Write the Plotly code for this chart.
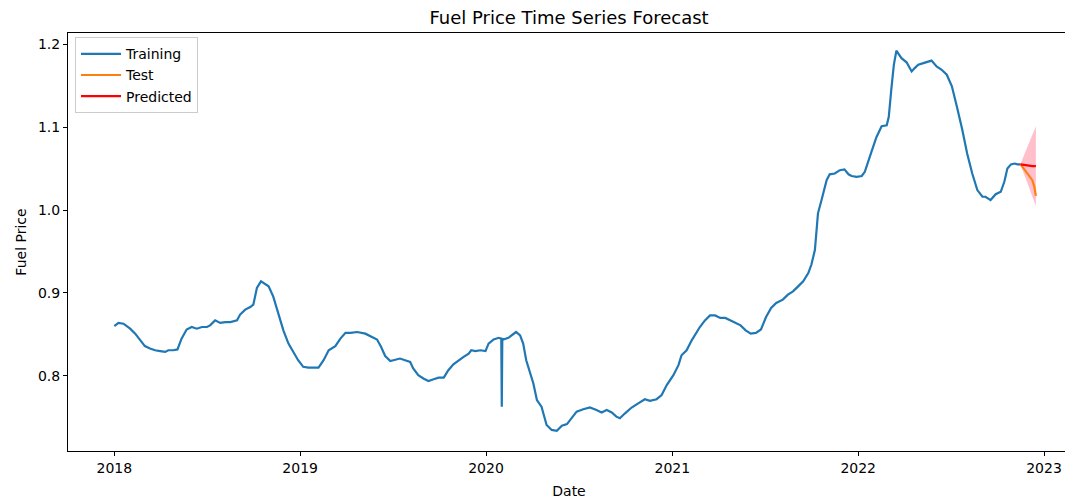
import plotly.graph_objects as go

# training series
train_dates = [
    "2018-01-01", "2018-01-09", "2018-01-19", "2018-02-01", "2018-02-11", "2018-02-21",
    "2018-03-02", "2018-03-12", "2018-03-22", "2018-04-01", "2018-04-11", "2018-04-17",
    "2018-04-27", "2018-05-05", "2018-05-13", "2018-05-23", "2018-06-02", "2018-06-12",
    "2018-06-22", "2018-07-02", "2018-07-08", "2018-07-18", "2018-07-28", "2018-08-07",
    "2018-08-17", "2018-08-30", "2018-09-05", "2018-09-15", "2018-09-25", "2018-10-01",
    "2018-10-08", "2018-10-16", "2018-10-24", "2018-10-31", "2018-11-09", "2018-11-19",
    "2018-11-29", "2018-12-09", "2018-12-19", "2018-12-28",
    "2019-01-07", "2019-01-17", "2019-01-27", "2019-02-06", "2019-02-16", "2019-02-26",
    "2019-03-11", "2019-03-21", "2019-03-31", "2019-04-10", "2019-04-23", "2019-05-09",
    "2019-05-22", "2019-06-01", "2019-06-09", "2019-06-17", "2019-06-27", "2019-07-07",
    "2019-07-16", "2019-07-26", "2019-08-05", "2019-08-11", "2019-08-21", "2019-08-31",
    "2019-09-10", "2019-09-20", "2019-09-30", "2019-10-10", "2019-10-19", "2019-10-29",
    "2019-11-08", "2019-11-18", "2019-11-28", "2019-12-03", "2019-12-11", "2019-12-21",
    "2019-12-31",
    "2020-01-06", "2020-01-16", "2020-01-26", "2020-01-31", "2020-02-01", "2020-02-02",
    "2020-02-04", "2020-02-14", "2020-02-21", "2020-02-29", "2020-03-08", "2020-03-14",
    "2020-03-20", "2020-03-28", "2020-04-03", "2020-04-10", "2020-04-19", "2020-04-29",
    "2020-05-09", "2020-05-19", "2020-05-29", "2020-06-08", "2020-06-17", "2020-06-27",
    "2020-07-10", "2020-07-23", "2020-08-05", "2020-08-15", "2020-08-25", "2020-09-04",
    "2020-09-13", "2020-09-20", "2020-09-30", "2020-10-13", "2020-10-26", "2020-11-08",
    "2020-11-18", "2020-12-01", "2020-12-11", "2020-12-21",
    "2021-01-03", "2021-01-13", "2021-01-19", "2021-01-29", "2021-02-08", "2021-02-18",
    "2021-02-24", "2021-03-06", "2021-03-16", "2021-03-26", "2021-04-05", "2021-04-15",
    "2021-04-25", "2021-05-05", "2021-05-15", "2021-05-25", "2021-06-04", "2021-06-14",
    "2021-06-24", "2021-07-04", "2021-07-14", "2021-07-24", "2021-08-06", "2021-08-16",
    "2021-08-26", "2021-09-05", "2021-09-15", "2021-09-25", "2021-10-01", "2021-10-08",
    "2021-10-11", "2021-10-14", "2021-10-21", "2021-10-26", "2021-10-31", "2021-11-06",
    "2021-11-16", "2021-11-26", "2021-12-05", "2021-12-13", "2021-12-19", "2021-12-29",
    "2022-01-08", "2022-01-14", "2022-01-21", "2022-01-27", "2022-02-06", "2022-02-16",
    "2022-02-26", "2022-03-02", "2022-03-07", "2022-03-12", "2022-03-17", "2022-03-27",
    "2022-04-06", "2022-04-16", "2022-04-22", "2022-04-29", "2022-05-09", "2022-05-19",
    "2022-05-25", "2022-06-04", "2022-06-14", "2022-06-24", "2022-07-04", "2022-07-14",
    "2022-07-24", "2022-08-03", "2022-08-13", "2022-08-23", "2022-09-02", "2022-09-08",
    "2022-09-18", "2022-09-28", "2022-10-08", "2022-10-15", "2022-10-21", "2022-10-28",
    "2022-11-04", "2022-11-10", "2022-11-16",
]
train_price = [
    0.860, 0.864, 0.863, 0.857, 0.851, 0.843,
    0.836, 0.833, 0.831, 0.830, 0.829, 0.831,
    0.831, 0.832, 0.845, 0.856, 0.859, 0.857,
    0.859, 0.859, 0.861, 0.867, 0.864, 0.865,
    0.865, 0.867, 0.874, 0.880, 0.883, 0.886,
    0.906, 0.914, 0.911, 0.908, 0.896, 0.876,
    0.855, 0.839, 0.829, 0.819,
    0.811, 0.810, 0.810, 0.810, 0.819, 0.831,
    0.836, 0.845, 0.852, 0.852, 0.853, 0.851,
    0.847, 0.844, 0.835, 0.824, 0.818, 0.820,
    0.821, 0.819, 0.817, 0.809, 0.801, 0.797,
    0.794, 0.796, 0.798, 0.798, 0.807, 0.814,
    0.819, 0.823, 0.827, 0.831, 0.830, 0.831,
    0.830,
    0.839, 0.844, 0.846, 0.845, 0.763, 0.845,
    0.844, 0.846, 0.849, 0.853, 0.849, 0.839,
    0.819, 0.803, 0.791, 0.771, 0.763, 0.741,
    0.735, 0.734, 0.740, 0.742, 0.749, 0.757,
    0.760, 0.762, 0.759, 0.756, 0.759, 0.756,
    0.751, 0.749, 0.755, 0.762, 0.767, 0.772,
    0.770, 0.772, 0.777, 0.789,
    0.801, 0.813, 0.825, 0.831, 0.843, 0.853,
    0.859, 0.867, 0.873, 0.873, 0.870, 0.870,
    0.867, 0.863, 0.861, 0.855, 0.851, 0.852,
    0.856, 0.871, 0.882, 0.888, 0.892, 0.898,
    0.902, 0.908, 0.914, 0.924, 0.934, 0.952,
    0.976, 0.996, 1.012, 1.024, 1.036, 1.043,
    1.044, 1.048, 1.049, 1.043, 1.041, 1.040,
    1.041, 1.046, 1.060, 1.070, 1.088, 1.101,
    1.102, 1.112, 1.145, 1.175, 1.192, 1.183,
    1.178, 1.167, 1.171, 1.175, 1.177, 1.179,
    1.180, 1.173, 1.169, 1.163, 1.149, 1.124,
    1.098, 1.068, 1.044, 1.024, 1.016, 1.016,
    1.012, 1.019, 1.022, 1.034, 1.050, 1.055,
    1.056, 1.055, 1.055,
]

# test series
test_dates = ["2022-11-16", "2022-11-22", "2022-11-29", "2022-12-04",
              "2022-12-09", "2022-12-13", "2022-12-16"]
test_price = [1.055, 1.050, 1.043, 1.040, 1.036, 1.028, 1.017]

# forecast with confidence band
pred_dates = ["2022-11-16", "2022-11-24", "2022-12-01", "2022-12-09", "2022-12-16"]
pred_price = [1.055, 1.054, 1.054, 1.053, 1.053]
pred_lower = [1.054, 1.042, 1.030, 1.016, 1.005]
pred_upper = [1.056, 1.068, 1.080, 1.092, 1.101]

year_ticks = ["2018-01-01", "2019-01-01", "2020-01-01", "2021-01-01",
              "2022-01-01", "2023-01-01"]
year_labels = ["2018", "2019", "2020", "2021", "2022", "2023"]

BLUE = "#1f77b4"
ORANGE = "#ff7f0e"

# the page body adds an 8px offset, so the figure is sized to the remaining space
W, H = 1065, 491

fig = go.Figure()

# confidence band (drawn first so the lines sit on top)
fig.add_trace(go.Scatter(
    x=pred_dates, y=pred_upper, mode="lines", line=dict(width=0),
    showlegend=False, hoverinfo="skip",
))
fig.add_trace(go.Scatter(
    x=pred_dates, y=pred_lower, mode="lines", line=dict(width=0),
    fill="tonexty", fillcolor="pink", showlegend=False, hoverinfo="skip",
))

fig.add_trace(go.Scatter(x=train_dates, y=train_price, mode="lines", name="Training",
                         line=dict(color=BLUE, width=2.2)))
fig.add_trace(go.Scatter(x=test_dates, y=test_price, mode="lines", name="Test",
                         line=dict(color=ORANGE, width=2.2)))
fig.add_trace(go.Scatter(x=pred_dates, y=pred_price, mode="lines", name="Predicted",
                         line=dict(color="red", width=2.2)))

fig.update_layout(
    width=W, height=H,
    title=dict(text="Fuel Price Time Series Forecast", x=0.5, xref="paper",
               y=1 - 10 / H, yanchor="middle", font=dict(size=18, color="black")),
    paper_bgcolor="white",
    plot_bgcolor="white",
    font=dict(family="DejaVu Sans", color="black", size=14),
    margin=dict(l=60, r=3, t=25, b=48),
    legend=dict(x=0.007, y=0.99, xanchor="left", yanchor="top", traceorder="normal",
                bgcolor="rgba(255,255,255,0.8)", bordercolor="#cccccc", borderwidth=1,
                itemwidth=40, font=dict(size=14)),
    showlegend=True,
)
fig.update_xaxes(
    title=dict(text="Date", standoff=12, font=dict(size=14)),
    automargin=False,
    range=["2017-10-02", "2023-02-21"],
    tickvals=year_ticks, ticktext=year_labels,
    showgrid=False, zeroline=False,
    showline=True, mirror=True, linecolor="black", linewidth=1,
    ticks="outside", ticklen=4, tickcolor="black",
)
fig.update_yaxes(
    title=dict(text="Fuel Price", standoff=8, font=dict(size=14)),
    automargin=False,
    range=[0.7096, 1.2133],
    tickvals=[0.8, 0.9, 1.0, 1.1, 1.2], tickformat=".1f",
    showgrid=False, zeroline=False,
    showline=True, mirror=True, linecolor="black", linewidth=1,
    ticks="outside", ticklen=4, tickcolor="black",
)

fig.write_html("out.html")
